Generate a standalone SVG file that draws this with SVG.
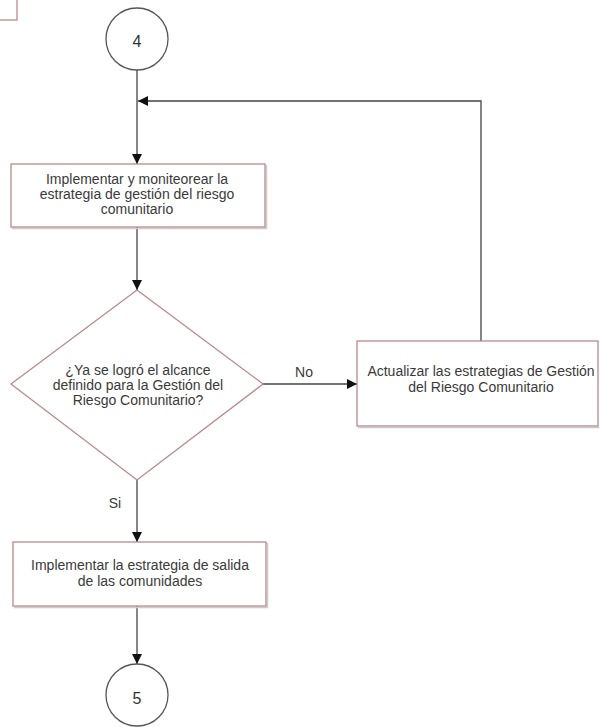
<svg xmlns="http://www.w3.org/2000/svg" width="600" height="728" viewBox="0 0 600 728">
<style>
.box{fill:#fff;stroke:#b88a8a;stroke-width:1.3}
.sh{fill:none;stroke:#ccc;stroke-width:1.5}
.circ{fill:#fff;stroke:#555;stroke-width:1.3}
.con{fill:none;stroke:#444;stroke-width:1.3}
.t{font-family:"Liberation Sans",Arial,sans-serif;font-size:14px;fill:#3a3a3a;text-anchor:middle}
.c{font-family:"Liberation Sans",Arial,sans-serif;font-size:16px;fill:#333;text-anchor:middle}
</style>
<defs>
<marker id="ah" viewBox="0 0 10 10" refX="10" refY="5" markerWidth="10" markerHeight="10" markerUnits="userSpaceOnUse" orient="auto">
<path d="M0,0 L10,5 L0,10 z" fill="#111"/>
</marker>
</defs>
<rect width="600" height="728" fill="#fff"/>
<g id="prev-box"><rect class="box" x="-5" y="-5" width="22" height="25"/></g>
<g id="connectors">
<path class="con" d="M137,70 V164" marker-end="url(#ah)"/>
<path class="con" d="M481,341 V101 H138" marker-end="url(#ah)"/>
<path class="con" d="M137,227 V290" marker-end="url(#ah)"/>
<path class="con" d="M263,384 H357" marker-end="url(#ah)"/>
<path class="con" d="M137,480 V542" marker-end="url(#ah)"/>
<path class="con" d="M137,606 V664" marker-end="url(#ah)"/>
<text class="t" x="304" y="377">No</text>
<text class="t" x="115" y="508">Si</text>
</g>
<g id="c4"><circle class="circ" cx="137" cy="39" r="31"/><text class="c" x="137" y="47">4</text></g>
<g id="implementar">
<path class="sh" d="M12,228.5 H266.5 V165"/>
<rect class="box" x="11" y="164" width="254" height="63"/>
<text class="t" x="137" y="184">Implementar y moniteorear la</text>
<text class="t" x="137" y="199">estrategia de gestión del riesgo</text>
<text class="t" x="137" y="214">comunitario</text>
</g>
<g id="decision">
<polygon class="box" points="137,290 263,384 137,480 11,384"/>
<text class="t" x="138" y="375">¿Ya se  logró el alcance</text>
<text class="t" x="138" y="390">definido para la Gestión del</text>
<text class="t" x="138" y="405">Riesgo Comunitario?</text>
</g>
<g id="actualizar">
<path class="sh" d="M358,427.5 H599.5"/>
<rect class="box" x="357" y="341" width="241" height="85"/>
<text class="t" x="481" y="376">Actualizar las estrategias de Gestión</text>
<text class="t" x="481" y="392">del Riesgo Comunitario</text>
</g>
<g id="salida">
<path class="sh" d="M14,607.5 H267.5 V543"/>
<rect class="box" x="13" y="542" width="253" height="64"/>
<text class="t" x="140" y="570">Implementar la estrategia de salida</text>
<text class="t" x="140" y="586">de las comunidades</text>
</g>
<g id="c5"><circle class="circ" cx="137" cy="695" r="31"/><text class="c" x="137" y="704">5</text></g>
</svg>
